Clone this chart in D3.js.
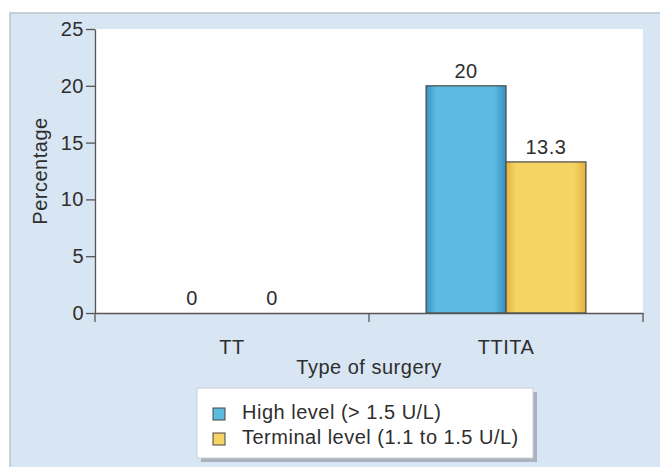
<!DOCTYPE html>
<html>
<head>
<meta charset="utf-8">
<script src="https://cdn.jsdelivr.net/npm/d3@7"></script>
<style>
  body { margin: 0; background: #fff; }
  text { font-family: "Liberation Sans", Arial, sans-serif; fill: #2e2e2e; letter-spacing: 0.5px; }
</style>
</head>
<body>
<svg id="chart" width="660" height="467"></svg>
<script>
// data
const categories = ["TT", "TTITA"];
const seriesNames = ["High level (> 1.5 U/L)", "Terminal level (1.1 to 1.5 U/L)"];
const highLevel = [0, 20];
const terminalLevel = [0, 13.3];
const valueLabels = [["0", "20"], ["0", "13.3"]];
const yTicks = [0, 5, 10, 15, 20, 25];

const colors = ["#5dbbe2", "#f5d464"];
const edgeColors = ["#3590c0", "#e2b040"];
const fontSize = "20px";

const svg = d3.select("#chart");

// panel background
svg.append("rect")
    .attr("x", 10).attr("y", 13)
    .attr("width", 660).attr("height", 470)
    .attr("fill", "#d8e5f3")
    .attr("stroke", "#b9c3cb").attr("stroke-width", 1.5);

const margin = { left: 95, top: 29, right: 643, bottom: 313 };

// gradients for bars
const defs = svg.append("defs");
colors.forEach((c, i) => {
    const g = defs.append("linearGradient").attr("id", "grad" + i)
        .attr("x1", "0%").attr("x2", "100%").attr("y1", "0%").attr("y2", "0%");
    g.append("stop").attr("offset", "0%").attr("stop-color", edgeColors[i]);
    g.append("stop").attr("offset", "12%").attr("stop-color", c);
    g.append("stop").attr("offset", "85%").attr("stop-color", c);
    g.append("stop").attr("offset", "100%").attr("stop-color", edgeColors[i]);
});

// plot area
svg.append("rect")
    .attr("x", margin.left).attr("y", margin.top)
    .attr("width", margin.right - margin.left)
    .attr("height", margin.bottom - margin.top)
    .attr("fill", "#fff");

const x = d3.scaleBand()
    .domain(categories)
    .range([margin.left, margin.right])
    .padding(0);

const xSub = d3.scaleBand()
    .domain([0, 1])
    .range([0, x.bandwidth()])
    .paddingInner(0)
    .paddingOuter(0.714);

const y = d3.scaleLinear()
    .domain([0, 25])
    .range([margin.bottom, margin.top]);

const series = [highLevel, terminalLevel];

// bars
series.forEach((vals, s) => {
    svg.selectAll(".bar" + s)
        .data(categories)
        .enter()
        .append("rect")
          .attr("class", "bar" + s)
          .attr("x", d => x(d) + xSub(s))
          .attr("y", (d, i) => y(vals[i]))
          .attr("width", xSub.bandwidth())
          .attr("height", (d, i) => y(0) - y(vals[i]))
          .attr("fill", "url(#grad" + s + ")")
          .attr("stroke", "#4a4a4a")
          .attr("stroke-width", 1.2)
          .style("display", (d, i) => vals[i] > 0 ? null : "none");

    svg.selectAll(".lab" + s)
        .data(categories)
        .enter()
        .append("text")
          .attr("x", d => x(d) + xSub(s) + xSub.bandwidth() / 2)
          .attr("y", (d, i) => y(vals[i]) - 8)
          .attr("text-anchor", "middle")
          .style("font-size", fontSize)
          .text((d, i) => valueLabels[s][i]);
});

// y axis
const yAxis = svg.append("g")
    .attr("transform", `translate(${margin.left},0)`)
    .call(d3.axisLeft(y).tickValues(yTicks).tickSize(9).tickPadding(2).tickSizeOuter(0));
yAxis.select(".domain").attr("stroke", "#555").attr("stroke-width", 1.3);
yAxis.selectAll(".tick line").attr("stroke", "#555").attr("stroke-width", 1.3);
yAxis.selectAll(".tick text").style("font-size", fontSize).attr("fill", "#2e2e2e")
    .style("font-family", "Liberation Sans, Arial, sans-serif");

// x axis
const xAxis = svg.append("g")
    .attr("transform", `translate(0,${margin.bottom})`)
    .call(d3.axisBottom(x).tickSize(0).tickPadding(27).tickSizeOuter(0));
xAxis.select(".domain").attr("stroke", "#555").attr("stroke-width", 1.3);
xAxis.selectAll(".tick text").style("font-size", fontSize).attr("fill", "#2e2e2e")
    .style("font-family", "Liberation Sans, Arial, sans-serif");

// boundary ticks on the x axis
const bounds = categories.map(d => x(d)).concat([x.range()[1]]);
svg.selectAll(".xb")
    .data(bounds)
    .enter()
    .append("line")
      .attr("x1", d => d).attr("x2", d => d)
      .attr("y1", margin.bottom).attr("y2", margin.bottom + 9)
      .attr("stroke", "#555").attr("stroke-width", 1.3);

// axis titles
svg.append("text")
    .attr("x", (margin.left + margin.right) / 2)
    .attr("y", 374)
    .attr("text-anchor", "middle")
    .style("font-size", fontSize)
    .text("Type of surgery");

svg.append("text")
    .attr("transform", `translate(47,${(margin.top + margin.bottom) / 2}) rotate(-90)`)
    .attr("text-anchor", "middle")
    .style("font-size", fontSize)
    .text("Percentage");

// legend
const lg = svg.append("g").attr("transform", "translate(197,388)");
lg.append("rect").attr("x", 4).attr("y", 4).attr("width", 336).attr("height", 70)
    .attr("fill", "#a9b3bd");
lg.append("rect").attr("width", 336).attr("height", 70)
    .attr("fill", "#fff").attr("stroke", "#c9cfd6");
seriesNames.forEach((name, i) => {
    lg.append("rect")
        .attr("x", 16).attr("y", 20 + i * 25)
        .attr("width", 12).attr("height", 12)
        .attr("fill", colors[i]).attr("stroke", "#444").attr("stroke-width", 1);
    lg.append("text")
        .attr("x", 45).attr("y", 31 + i * 25)
        .style("font-size", fontSize)
        .text(name);
});
</script>
</body>
</html>
